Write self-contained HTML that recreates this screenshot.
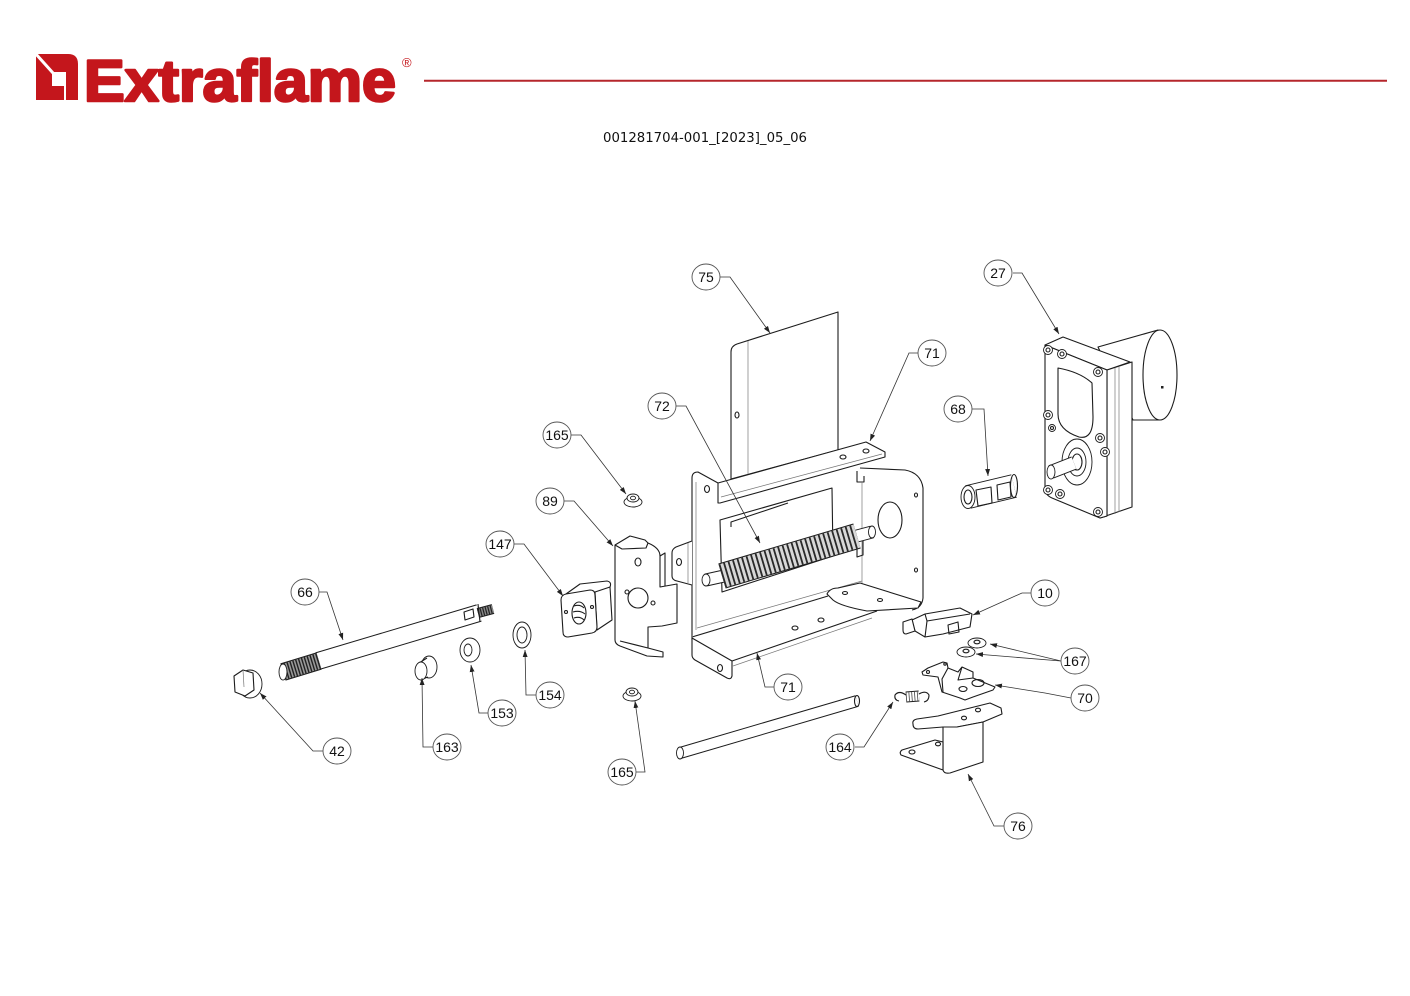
<!DOCTYPE html>
<html><head><meta charset="utf-8">
<style>
html,body{margin:0;padding:0;background:#fff;}
svg{display:block;}
.p{fill:#fff;stroke:#1c1c1c;stroke-width:1.1;stroke-linejoin:round}
.l{fill:none;stroke:#1c1c1c;stroke-width:1.1;stroke-linejoin:round}
.t{fill:none;stroke:#777;stroke-width:0.7}
.h{fill:#fff;stroke:#1c1c1c;stroke-width:0.9}
.ld{fill:none;stroke:#333;stroke-width:0.8;marker-end:url(#ar)}
.cc{fill:#fff;stroke:#555;stroke-width:0.9}
.ct{font-family:"Liberation Sans",Arial,sans-serif;font-size:14px;fill:#111;text-anchor:middle}
</style></head><body>
<svg width="1410" height="996" viewBox="0 0 1410 996" xmlns="http://www.w3.org/2000/svg">
<defs>
<marker id="ar" viewBox="0 0 10 10" refX="10" refY="5" markerWidth="7" markerHeight="7" orient="auto" markerUnits="userSpaceOnUse"><path d="M0,1.5 L10,5 L0,8.5 z" fill="#222"/></marker>
</defs>

<!-- LOGO -->
<path d="M36,54 L68,54 Q78,54 78,64 L78,100 L36,100 Z" fill="#c4161c"/>
<rect x="52" y="72" width="13" height="14" fill="#fff"/>
<line x1="65" y1="72" x2="65" y2="100" stroke="#fff" stroke-width="2"/>
<line x1="35" y1="53" x2="53" y2="73" stroke="#fff" stroke-width="3"/>
<text x="84" y="101" font-family="Liberation Sans, Arial, sans-serif" font-weight="bold" font-size="58" fill="#c4161c" stroke="#c4161c" stroke-width="2.6" stroke-linejoin="round" textLength="312" lengthAdjust="spacingAndGlyphs">Extraflame</text>
<text x="402" y="67" font-family="Liberation Sans, Arial, sans-serif" font-size="13" fill="#c4161c">®</text>
<line x1="424" y1="80.7" x2="1387" y2="80.7" stroke="#b5262c" stroke-width="2"/>

<!-- TITLE -->
<text x="603" y="142" font-family="DejaVu Sans, Verdana, sans-serif" font-size="13.5" fill="#111" textLength="204" lengthAdjust="spacingAndGlyphs">001281704-001_[2023]_05_06</text>

<!-- PLATE 75 -->
<path class="p" d="M731,479 L731,352 Q731,346 737,344 L838,312 L838,450 Z"/>
<line class="t" x1="748" y1="341" x2="748" y2="475"/>
<ellipse class="l" cx="737" cy="415" rx="2" ry="3"/>

<!-- BOX 71 -->
<path class="p" d="M692,636 L692,478 Q692,472 698,472 L718,483 L718,503 L720,503 L866,462 L866,600 L692,640 Z" style="stroke:none"/>
<path class="l" d="M692,640 L692,478 Q692,472 698,472 L718,483"/>
<line class="t" x1="696" y1="482" x2="696" y2="630"/>
<ellipse class="l" cx="707" cy="489" rx="2.5" ry="3.5"/>
<path class="p" d="M718,483 L866,442 L885,452 L885,457 L720,503 L718,503 Z"/>
<line class="t" x1="721" y1="497" x2="882" y2="454"/>
<ellipse class="l" cx="843" cy="457" rx="3" ry="2"/>
<ellipse class="l" cx="866" cy="451" rx="3" ry="2"/>
<!-- right side wall -->
<path class="p" d="M860,466 L905,470 Q921,473 923,488 L923,598 Q922,608 912,610 L862,590 Z" style="stroke:none"/>
<path class="l" d="M860,468 L905,470 Q921,473 923,488 L923,598 Q922,608 912,610"/>
<path class="l" d="M857,471 L857,482 L864,482 L864,476"/>
<line class="t" x1="862" y1="482" x2="862" y2="584"/>
<ellipse class="l" cx="890" cy="520" rx="12" ry="18"/>
<ellipse class="l" cx="916" cy="495" rx="1.5" ry="2"/>
<ellipse class="l" cx="916" cy="570" rx="1.5" ry="2"/>
<!-- window -->
<path class="p" d="M720,520 L832,488 L833,556 L722,592 Z"/>
<path class="l" d="M731,527 L731,522 L788,503"/>
<path class="l" d="M857,537 L857,557 L863,555 L863,540"/>
<!-- left tab -->
<path class="p" d="M692,541 L676,547 Q672,549 672,553 L672,576 Q672,580 677,581 L692,585"/>
<line class="t" x1="688" y1="543" x2="688" y2="583"/>
<ellipse class="l" cx="679" cy="562" rx="2.5" ry="3.5"/>

<!-- WORM 72 -->
<line x1="706" y1="580" x2="724" y2="576" stroke="#1c1c1c" stroke-width="13"/>
<line x1="706" y1="580" x2="724" y2="576" stroke="#fff" stroke-width="11"/>
<ellipse class="h" cx="706" cy="580" rx="4" ry="6"/>
<line x1="857" y1="536" x2="872" y2="532" stroke="#1c1c1c" stroke-width="13"/>
<line x1="857" y1="536" x2="872" y2="532" stroke="#fff" stroke-width="11"/>
<ellipse class="h" cx="872" cy="532" rx="3.5" ry="6"/>
<line x1="722" y1="576" x2="857" y2="536" stroke="#1c1c1c" stroke-width="26"/>
<line x1="722" y1="576" x2="857" y2="536" stroke="#d8d8d8" stroke-width="24"/>
<line x1="722" y1="576" x2="857" y2="536" stroke="#2a2a2a" stroke-width="24" stroke-dasharray="1.8 2.9"/>

<!-- bottom flange -->
<path class="p" d="M692,636 L828,595 L860,586 L877,611 L732,661 L692,640 Z" style="stroke:none"/>
<line class="t" x1="697" y1="628" x2="862" y2="581"/>
<line class="l" x1="692" y1="637" x2="828" y2="596"/>
<line class="l" x1="732" y1="661" x2="877" y2="611"/>
<line class="t" x1="733" y1="666" x2="872" y2="618"/>
<path class="p" d="M692,638 L732,661 L732,676 Q731,680 727,678 L695,660 Q692,658 692,655 Z"/>
<ellipse class="l" cx="720" cy="668" rx="2.5" ry="3.5"/>
<ellipse class="l" cx="795" cy="628" rx="3" ry="2"/>
<ellipse class="l" cx="821" cy="620" rx="3" ry="2"/>
<!-- shelf -->
<path class="p" d="M827,594 Q830,588 838,588 L860,583 L921,602 L918,608 L867,611 Q840,606 833,600 Z"/>
<ellipse class="l" cx="845" cy="593" rx="2.5" ry="1.5"/>
<ellipse class="l" cx="880" cy="600" rx="2.5" ry="1.5"/>

<!-- BRACKET 89 -->
<path class="p" d="M615,545 L630,536 L645,540 L648,543 Q660,548 660,556 L660,587 L677,584 L677,623 L662,626 L648,627 L648,648 L663,652 L663,657 L647,656 L620,646 Q615,644 615,640 Z"/>
<path class="l" d="M648,543 L646,548 L622,549 L615,545"/>
<path class="l" d="M660,556 L665,553 L665,586"/>
<path class="l" d="M648,648 L620,641"/>
<circle class="l" cx="638" cy="598" r="10"/>
<ellipse class="l" cx="638" cy="562" rx="3" ry="4"/>
<circle class="l" cx="627" cy="592" r="2"/>
<circle class="l" cx="653" cy="603" r="2"/>

<!-- NUT 147 -->
<path class="p" d="M566,594 L580,584 L607,581 Q612,582 610,587 L612,620 L597,630 L595,592 Z"/>
<path class="p" d="M561,600 Q561,595 566,594 L590,590 Q595,590 595,595 L597,627 Q597,632 592,633 L568,637 Q563,637 563,632 Z"/>
<line class="l" x1="595" y1="592" x2="610" y2="587"/>
<ellipse class="l" cx="579" cy="613" rx="7" ry="11"/>
<path class="l" d="M574,606 Q580,604 584,608 M573,612 Q580,610 585,614 M574,618 Q580,616 584,620"/>
<circle class="l" cx="566" cy="612" r="1.5"/>
<circle class="l" cx="592" cy="607" r="1.5"/>

<!-- NUTS 165 -->
<ellipse class="h" cx="633" cy="502" rx="9" ry="5"/>
<ellipse class="h" cx="633" cy="498" rx="6" ry="4"/>
<ellipse class="h" cx="633" cy="498" rx="2.5" ry="1.8"/>
<ellipse class="h" cx="632" cy="696" rx="9" ry="5"/>
<ellipse class="h" cx="632" cy="692" rx="6" ry="4"/>
<ellipse class="h" cx="632" cy="692" rx="2.5" ry="1.8"/>

<!-- SHAFT 66 -->
<line x1="318" y1="661" x2="479" y2="613" stroke="#1c1c1c" stroke-width="18"/>
<line x1="318" y1="661" x2="479" y2="613" stroke="#fff" stroke-width="16"/>
<line x1="283" y1="672" x2="319" y2="661" stroke="#1c1c1c" stroke-width="18"/>
<line x1="283" y1="672" x2="319" y2="661" stroke="#999" stroke-width="16"/>
<line x1="283" y1="672" x2="319" y2="661" stroke="#222" stroke-width="16" stroke-dasharray="1.4 1.6"/>
<ellipse class="h" cx="283" cy="672" rx="4" ry="8"/>
<line x1="478" y1="613" x2="493" y2="609" stroke="#1c1c1c" stroke-width="10"/>
<line x1="478" y1="613" x2="493" y2="609" stroke="#888" stroke-width="8"/>
<line x1="478" y1="613" x2="493" y2="609" stroke="#222" stroke-width="8" stroke-dasharray="1.2 1.4"/>
<path class="l" d="M464,612 L473,609 L474,617 L465,620 Z"/>
<line class="l" x1="478" y1="604" x2="480" y2="622"/>

<!-- 42 -->
<ellipse class="h" cx="250" cy="684" rx="12" ry="14"/>
<path class="p" d="M234,676 L243,670 L253,673 L254,690 L245,696 L235,692 Z"/>
<line class="t" x1="243" y1="670" x2="244" y2="687"/>
<!-- 163 -->
<path class="p" d="M421,662 L429,656 L430,678 L421,680 Z" style="stroke:none"/>
<ellipse class="h" cx="429" cy="667" rx="8" ry="11"/>
<path class="l" d="M419,663 L427,658 M420,680 L428,677"/>
<ellipse class="h" cx="421" cy="671" rx="6" ry="9"/>
<!-- 153 -->
<ellipse class="h" cx="470" cy="650" rx="10" ry="12"/>
<ellipse class="h" cx="468" cy="650" rx="4" ry="6"/>
<!-- 154 -->
<ellipse class="h" cx="522" cy="635" rx="9" ry="13"/>
<ellipse class="h" cx="522" cy="635" rx="5" ry="8"/>

<!-- ROD -->
<line x1="680" y1="753" x2="857" y2="701" stroke="#1c1c1c" stroke-width="12"/>
<line x1="680" y1="753" x2="857" y2="701" stroke="#fff" stroke-width="10"/>
<ellipse class="h" cx="680" cy="753" rx="3.5" ry="6"/>
<ellipse class="l" cx="857" cy="701" rx="2.5" ry="5.5"/>

<!-- MOTOR 27 -->
<path class="p" d="M1098,347 L1158,330 L1160,420 L1133,420 Z"/>
<ellipse class="p" cx="1160" cy="375" rx="17" ry="45"/>
<rect x="1161" y="386" width="2.5" height="2.5" fill="#222"/>
<path class="p" d="M1045,345 L1063,337 L1130,362 L1107,370 Z"/>
<path class="p" d="M1107,370 L1132,362 L1132,507 L1100,518 L1107,516 Z"/>
<path class="p" d="M1045,345 L1107,370 L1107,516 L1100,518 L1052,498 Q1045,495 1045,488 Z"/>
<line class="t" x1="1115" y1="368" x2="1115" y2="514"/>
<line class="t" x1="1119" y1="367" x2="1119" y2="512"/>
<path class="l" d="M1058,368 Q1080,372 1092,383 L1093,417 Q1093,440 1079,437 Q1058,430 1058,414 Z"/>
<ellipse class="h" cx="1077" cy="462" rx="15" ry="23"/>
<ellipse class="h" cx="1077" cy="462" rx="9" ry="14"/>
<ellipse class="l" cx="1077" cy="462" rx="5" ry="8"/>
<line x1="1051" y1="472" x2="1074" y2="463" stroke="#1c1c1c" stroke-width="14"/>
<line x1="1051" y1="472" x2="1074" y2="463" stroke="#fff" stroke-width="12"/>
<ellipse class="h" cx="1051" cy="472" rx="4" ry="7"/>
<g>
<circle class="h" cx="1048" cy="350" r="4.5"/><circle class="l" cx="1048" cy="350" r="2"/>
<circle class="h" cx="1062" cy="354" r="4.5"/><circle class="l" cx="1062" cy="354" r="2"/>
<circle class="h" cx="1098" cy="372" r="4.5"/><circle class="l" cx="1098" cy="372" r="2"/>
<circle class="h" cx="1048" cy="415" r="4.5"/><circle class="l" cx="1048" cy="415" r="2"/>
<circle class="h" cx="1052" cy="428" r="3.5"/><circle class="l" cx="1052" cy="428" r="1.5"/>
<circle class="h" cx="1100" cy="438" r="4.5"/><circle class="l" cx="1100" cy="438" r="2"/>
<circle class="h" cx="1105" cy="452" r="4.5"/><circle class="l" cx="1105" cy="452" r="2"/>
<circle class="h" cx="1048" cy="490" r="4.5"/><circle class="l" cx="1048" cy="490" r="2"/>
<circle class="h" cx="1060" cy="494" r="4.5"/><circle class="l" cx="1060" cy="494" r="2"/>
<circle class="h" cx="1098" cy="512" r="4.5"/><circle class="l" cx="1098" cy="512" r="2"/>
</g>

<!-- COUPLING 68 -->
<line x1="968" y1="497" x2="1014" y2="486" stroke="#1c1c1c" stroke-width="24"/>
<line x1="968" y1="497" x2="1014" y2="486" stroke="#fff" stroke-width="22"/>
<ellipse class="l" cx="1014" cy="486" rx="3.5" ry="11.5"/>
<path class="l" d="M976,490 L991,487 L992,503 L978,506 Z"/>
<path class="l" d="M997,485 L1010,482 L1011,497 L998,500 Z"/>
<ellipse class="h" cx="968" cy="497" rx="7" ry="11.5"/>
<ellipse class="l" cx="968" cy="497" rx="4" ry="7"/>

<!-- SWITCH 10 -->
<path class="p" d="M912,620 L925,614 L960,608 L972,614 L970,627 L943,634 L925,637 L915,631 Z"/>
<path class="l" d="M925,614 L927,621 L970,614 M927,621 L925,637"/>
<path class="p" d="M903,622 L912,619 L915,631 L906,634 Q903,634 903,630 Z"/>
<path class="l" d="M948,625 L958,622 L959,632 L949,634 Z"/>
<!-- WASHERS 167 -->
<ellipse class="h" cx="977" cy="643" rx="9" ry="5"/>
<ellipse class="l" cx="977" cy="642" rx="3" ry="1.8"/>
<ellipse class="h" cx="966" cy="652" rx="9" ry="5"/>
<ellipse class="l" cx="966" cy="651" rx="3" ry="1.8"/>
<!-- BRACKET 70 -->
<path class="p" d="M922,672 L928,668 L943,662 L947,663 L948,668 L958,672 L962,667 L973,672 L973,678 L995,687 L993,690 L973,697 L965,700 L960,698 L942,692 L938,677 L923,675 Z"/>
<path class="l" d="M948,668 L942,679 L943,692 M962,667 L958,680 L973,678"/>
<ellipse class="l" cx="978" cy="683" rx="6" ry="3.5"/>
<ellipse class="l" cx="963" cy="689" rx="4" ry="2.5"/>
<circle class="l" cx="928" cy="672" r="1.5"/>
<circle class="l" cx="945" cy="664" r="1.2"/>
<!-- SPRING 164 -->
<line x1="906" y1="697" x2="919" y2="696" stroke="#1c1c1c" stroke-width="11"/>
<line x1="906" y1="697" x2="919" y2="696" stroke="#fff" stroke-width="9"/>
<line x1="906" y1="697" x2="919" y2="696" stroke="#444" stroke-width="9" stroke-dasharray="0.8 2"/>
<path class="l" d="M906,695 Q899,690 895,695 Q894,700 899,701"/>
<path class="l" d="M919,694 Q926,690 929,695 Q929,701 924,702"/>
<!-- BRACKET 76 -->
<path class="p" d="M913,724 Q912,720 917,719 L938,716 L950,713 L990,703 L1001,708 L1002,714 L983,722 L957,727 L943,727 L918,729 Q913,729 913,724 Z"/>
<path class="p" d="M943,727 L943,770 Q944,774 950,773 L983,762 L983,722 L957,727 Z"/>
<path class="p" d="M943,770 L901,755 Q899,752 902,750 L935,740 L943,742 Z"/>
<ellipse class="l" cx="978" cy="710" rx="2.5" ry="1.8"/>
<ellipse class="l" cx="964" cy="718" rx="2.5" ry="1.8"/>
<ellipse class="l" cx="912" cy="752" rx="3" ry="2"/>
<ellipse class="l" cx="938" cy="744" rx="2.5" ry="1.8"/>

<!-- LEADERS -->
<path class="ld" d="M720,277 L730,277 L770,333"/>
<path class="ld" d="M918,353 L909,353 L870,441"/>
<path class="ld" d="M676,406 L686,406 L760,543"/>
<path class="ld" d="M571,435 L581,435 L626,494"/>
<path class="ld" d="M564,501 L574,501 L613,546"/>
<path class="ld" d="M514,544 L524,544 L563,596"/>
<path class="ld" d="M319,592 L327,592 L343,640"/>
<path class="ld" d="M323,751 L313,751 L260,693"/>
<path class="ld" d="M433,747 L423,747 L422,678"/>
<path class="ld" d="M488,713 L479,713 L471,665"/>
<path class="ld" d="M536,695 L526,695 L525,650"/>
<path class="ld" d="M636,772 L645,772 L635,701"/>
<path class="ld" d="M774,687 L765,687 L757,653"/>
<path class="ld" d="M1031,593 L1022,593 L973,615"/>
<path class="ld" d="M1061,661 L990,644"/>
<path class="ld" d="M1061,661 L976,654"/>
<path class="ld" d="M1071,698 L1045,693 L995,685"/>
<path class="ld" d="M855,747 L864,747 L893,702"/>
<path class="ld" d="M1004,826 L994,826 L968,774"/>
<path class="ld" d="M972,409 L984,409 L988,476"/>
<path class="ld" d="M1013,273 L1022,273 L1059,334"/>

<!-- CALLOUTS -->
<g>
<ellipse class="cc" cx="706" cy="277" rx="14" ry="13"/><text class="ct" x="706" y="282">75</text>
<ellipse class="cc" cx="932" cy="353" rx="14" ry="13"/><text class="ct" x="932" y="358">71</text>
<ellipse class="cc" cx="662" cy="406" rx="14" ry="13"/><text class="ct" x="662" y="411">72</text>
<ellipse class="cc" cx="557" cy="435" rx="14" ry="13"/><text class="ct" x="557" y="440">165</text>
<ellipse class="cc" cx="550" cy="501" rx="14" ry="13"/><text class="ct" x="550" y="506">89</text>
<ellipse class="cc" cx="500" cy="544" rx="14" ry="13"/><text class="ct" x="500" y="549">147</text>
<ellipse class="cc" cx="305" cy="592" rx="14" ry="13"/><text class="ct" x="305" y="597">66</text>
<ellipse class="cc" cx="337" cy="751" rx="14" ry="13"/><text class="ct" x="337" y="756">42</text>
<ellipse class="cc" cx="447" cy="747" rx="14" ry="13"/><text class="ct" x="447" y="752">163</text>
<ellipse class="cc" cx="502" cy="713" rx="14" ry="13"/><text class="ct" x="502" y="718">153</text>
<ellipse class="cc" cx="550" cy="695" rx="14" ry="13"/><text class="ct" x="550" y="700">154</text>
<ellipse class="cc" cx="622" cy="772" rx="14" ry="13"/><text class="ct" x="622" y="777">165</text>
<ellipse class="cc" cx="788" cy="687" rx="14" ry="13"/><text class="ct" x="788" y="692">71</text>
<ellipse class="cc" cx="1045" cy="593" rx="14" ry="13"/><text class="ct" x="1045" y="598">10</text>
<ellipse class="cc" cx="1075" cy="661" rx="14" ry="13"/><text class="ct" x="1075" y="666">167</text>
<ellipse class="cc" cx="1085" cy="698" rx="14" ry="13"/><text class="ct" x="1085" y="703">70</text>
<ellipse class="cc" cx="840" cy="747" rx="14" ry="13"/><text class="ct" x="840" y="752">164</text>
<ellipse class="cc" cx="1018" cy="826" rx="14" ry="13"/><text class="ct" x="1018" y="831">76</text>
<ellipse class="cc" cx="958" cy="409" rx="14" ry="13"/><text class="ct" x="958" y="414">68</text>
<ellipse class="cc" cx="998" cy="273" rx="14" ry="13"/><text class="ct" x="998" y="278">27</text>
</g>
</svg>
</body></html>
